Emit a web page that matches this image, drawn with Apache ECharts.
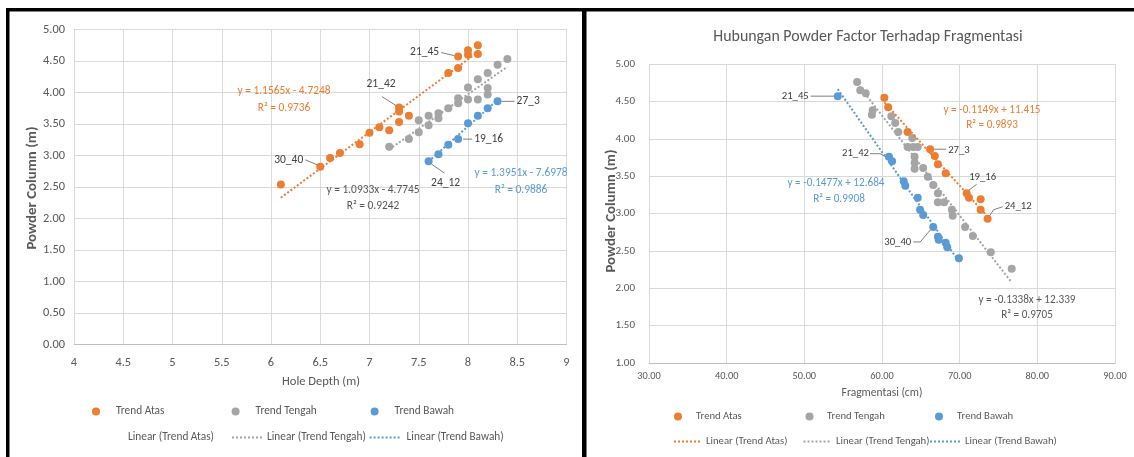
<!DOCTYPE html>
<html><head><meta charset="utf-8">
<script src="https://cdn.jsdelivr.net/npm/echarts@6/dist/echarts.min.js"></script>
<style>html,body{margin:0;padding:0;background:#fff}#c{width:1134px;height:457px}</style>
</head><body><div id="c"></div>
<script>
// ---------- DATA ----------
// Left chart: Hole Depth (m) vs Powder Column (m)
const depthAtas   = [6.1,6.5,6.6,6.7,6.9,7.0,7.1,7.2,7.3,7.3,7.3,7.4,7.8,7.9,7.9,8.0,8.0,8.1,8.1];
const colAtasL    = [2.54,2.82,2.96,3.04,3.18,3.36,3.45,3.40,3.53,3.76,3.70,3.63,4.31,4.39,4.57,4.60,4.67,4.61,4.75];
const depthTengah = [7.2,7.4,7.5,7.5,7.6,7.6,7.7,7.7,7.8,7.9,7.9,8.0,8.0,8.1,8.1,8.2,8.2,8.2,8.3,8.4];
const colTengahL  = [3.14,3.26,3.37,3.56,3.48,3.63,3.59,3.67,3.75,3.83,3.91,3.89,4.08,3.89,4.21,3.97,4.07,4.31,4.44,4.53];
const depthBawah  = [7.6,7.7,7.8,7.9,8.0,8.1,8.2,8.3];
const colBawahL   = [2.91,3.02,3.17,3.26,3.51,3.63,3.75,3.86];
// Right chart: Fragmentasi (cm) vs Powder Column (m)
const fragAtas    = [60.3,60.8,63.3,66.2,66.8,67.2,68.2,70.9,71.2,72.7,72.7,73.6];
const colAtasR    = [4.55,4.42,4.09,3.86,3.77,3.66,3.54,3.27,3.21,3.19,3.05,2.93];
const fragTengah  = [56.8,57.2,57.9,58.8,58.7,61.2,61.7,62.1,63.9,63.3,64.0,64.6,64.2,64.2,64.2,65.3,65.9,66.6,67.2,67.2,68.0,69.0,69.1,70.7,71.7,74.0,76.7];
const colTengahR  = [4.76,4.65,4.61,4.38,4.32,4.30,4.21,4.09,4.01,3.89,3.89,3.89,3.76,3.68,3.60,3.61,3.49,3.38,3.27,3.15,3.15,3.05,2.97,2.82,2.70,2.48,2.26];
const fragBawah   = [54.3,60.9,61.3,62.8,63.0,64.6,64.9,65.3,66.6,67.2,67.3,68.2,68.4,69.9];
const colBawahR   = [4.57,3.76,3.70,3.43,3.37,3.21,3.05,2.98,2.82,2.69,2.65,2.61,2.55,2.40];
// Trendline equations shown on the chart [slope, intercept, R2]
const trendL = { atas:[1.1565,-4.7248,0.9736], tengah:[1.0933,-4.7745,0.9242], bawah:[1.3951,-7.6978,0.9886] };
const trendR = { atas:[-0.1149,11.415,0.9893], tengah:[-0.1338,12.339,0.9705], bawah:[-0.1477,12.684,0.9908] };
// Point tags (index into arrays -> text)
const tagsLeftAtas  = {1:'30_40', 9:'21_42', 14:'21_45'};
const tagsLeftBawah = {0:'24_12', 3:'19_16', 7:'27_3'};
const tagsRightAtas = {3:'27_3', 7:'19_16', 11:'24_12'};
const tagsRightBawah= {0:'21_45', 1:'21_42', 8:'30_40'};
const seriesNames = ['Trend Atas','Trend Tengah','Trend Bawah'];
const lineNames = ['Linear (Trend Atas)','Linear (Trend Tengah)','Linear (Trend Bawah)'];
const chartTitle = 'Hubungan Powder Factor Terhadap Fragmentasi';
const xTitleL = 'Hole Depth (m)', xTitleR = 'Fragmentasi (cm)', yTitle = 'Powder Column (m)';

// ---------- STYLE ----------
const C = {atas:'#ED7D31', tengah:'#A5A5A5', bawah:'#5B9BD5'};
const mctx = document.createElement('canvas').getContext('2d');
function hasFont(n){mctx.font='30px "'+n+'", monospace';const a=mctx.measureText('Hole Depth (m) 0123').width;mctx.font='30px monospace';return a!==mctx.measureText('Hole Depth (m) 0123').width;}
const FONTNAME = ['Carlito','Liberation Sans Narrow','DejaVu Sans Condensed','Open Sans'].find(hasFont) || 'Liberation Sans';
const FONT = '"' + FONTNAME + '", sans-serif';
// font size that gives a sample string the width measured in the reference
function fit(text, w, weight){ mctx.font=(weight||'normal')+' 100px '+FONT; return Math.round(1000*w/mctx.measureText(text).width)/10; }
const TXT = '#595959';
const FS = {
  legL: fit(lineNames[0], 86), legR: fit(lineNames[0], 81.5),
  eqL: fit('y = 1.1565x - 4.7248', 93), eqR: fit('y = -0.1149x + 11.415', 97),
  title: fit(chartTitle, 310), xtL: fit(xTitleL, 78), xtR: fit(xTitleR, 81), yt: fit(yTitle, 123, 'bold'),
  tagL: fit('19_16', 29), tagR: fit('19_16', 27),
  tickL: fit('5.00', 22), tickRy: fit('5.00', 19.5), tickRx: fit('30.00', 23.5)
};

const zip = (xs, ys) => xs.map((x,i)=>[x, ys[i]]);
const trendData = (xs, t) => { const a=Math.min(...xs), b=Math.max(...xs); return [[a, t[0]*a+t[1]],[b, t[0]*b+t[1]]]; };

const chart = echarts.init(document.getElementById('c'), null, {renderer:'canvas'});
const gridLine = {show:true, lineStyle:{color:'#D9D9D9', width:1}};
function scat(name, data, color, gi, size){ return {name, type:'scatter', xAxisIndex:gi, yAxisIndex:gi, data, symbolSize:size, itemStyle:{color, opacity:1}, z:3, emphasis:{disabled:true}}; }
function tl(name, data, color, gi){ return {name, type:'line', xAxisIndex:gi, yAxisIndex:gi, data, symbol:'none', showSymbol:false, lineStyle:{color, width:2, type:[2,2]}, itemStyle:{color}, z:4, silent:true, animation:false}; }

const series = [
  scat(seriesNames[0], zip(depthAtas,colAtasL), C.atas, 0, 8),
  scat(seriesNames[1], zip(depthTengah,colTengahL), C.tengah, 0, 8),
  scat(seriesNames[2], zip(depthBawah,colBawahL), C.bawah, 0, 8),
  tl(lineNames[0], trendData(depthAtas, trendL.atas), C.atas, 0),
  tl(lineNames[1], trendData(depthTengah, trendL.tengah), C.tengah, 0),
  tl(lineNames[2], trendData(depthBawah, trendL.bawah), C.bawah, 0),
  scat(seriesNames[0], zip(fragAtas,colAtasR), C.atas, 1, 8),
  scat(seriesNames[1], zip(fragTengah,colTengahR), C.tengah, 1, 8),
  scat(seriesNames[2], zip(fragBawah,colBawahR), C.bawah, 1, 8),
  tl(lineNames[0], trendData(fragAtas, trendR.atas), C.atas, 1),
  tl(lineNames[1], trendData(fragTengah, trendR.tengah), C.tengah, 1),
  tl(lineNames[2], trendData(fragBawah, trendR.bawah), C.bawah, 1)
];

// legend item: icon box [left, left+w], text starts at left+w+5
function lg(name, left, top, w, fs){ return {show:true, left, top, padding:0, orient:'horizontal', data:[name], itemWidth:w, itemHeight:8, selectedMode:false, icon:'circle', textStyle:{color:TXT, fontSize:fs, fontFamily:FONT}}; }
function lgLine(name, left, top, w, fs, hidden){
  const o = lg(name, left, top, w, fs); o.icon = null;
  o.data = [{name, itemStyle:{opacity:0}, lineStyle:{opacity:hidden?0:1}}];
  return o;
}

const legends = [
  lg(seriesNames[0], 92, 406, 30, FS.legL),
  lg(seriesNames[1], 231.6, 406, 30, FS.legL),
  lg(seriesNames[2], 370.6, 406, 30, FS.legL),
  lgLine(lineNames[0], 92, 432, 30, FS.legL, true),
  lgLine(lineNames[1], 231, 432, 30, FS.legL),
  lgLine(lineNames[2], 368.6, 432, 32, FS.legL),
  lg(seriesNames[0], 674, 411, 26, FS.legR),
  lg(seriesNames[1], 805.5, 411, 25, FS.legR),
  lg(seriesNames[2], 935, 411, 26, FS.legR),
  lgLine(lineNames[0], 673, 436, 27, FS.legR),
  lgLine(lineNames[1], 802.5, 436, 27.5, FS.legR),
  lgLine(lineNames[2], 929, 436, 30, FS.legR)
];

const axLabel = (fs, margin, fmt) => ({color:TXT, fontSize:fs, fontFamily:FONT, margin, formatter:fmt});
chart.setOption({
  animation:false,
  backgroundColor:'#fff',
  grid:[{left:74, top:29.5, width:492.5, height:315}, {left:649, top:64, width:466, height:299}],
  xAxis:[
    {type:'value', gridIndex:0, min:4, max:9, interval:0.5, axisLine:{show:true, onZero:false, lineStyle:{color:'#BFBFBF'}}, axisTick:{show:false}, splitLine:gridLine, axisLabel:axLabel(FS.tickL, 12, v=>String(v))},
    {type:'value', gridIndex:1, min:30, max:90, interval:10, axisLine:{show:true, onZero:false, lineStyle:{color:'#BFBFBF'}}, axisTick:{show:false}, splitLine:gridLine, axisLabel:axLabel(FS.tickRx, 8, v=>v.toFixed(2))}
  ],
  yAxis:[
    {type:'value', gridIndex:0, min:0, max:5, interval:0.5, axisLine:{show:false}, axisTick:{show:false}, splitLine:gridLine, axisLabel:axLabel(FS.tickL, 9, v=>v.toFixed(2))},
    {type:'value', gridIndex:1, min:1, max:5, interval:0.5, axisLine:{show:false}, axisTick:{show:false}, splitLine:gridLine, axisLabel:axLabel(FS.tickRy, 14, v=>v.toFixed(2))}
  ],
  legend:legends,
  series
});

// ---------- ANNOTATIONS ----------
const g = [];
const txt = (text, x, y, o) => g.push({type:'text', silent:true, z:100, style:Object.assign({text, x, y, fill:TXT, fontSize:12, fontFamily:FONT, align:'center', verticalAlign:'middle'}, o||{})});
// frames
g.push({type:'rect', silent:true, z:100, shape:{x:6, y:8, width:3.5, height:460}, style:{fill:'#000'}});
g.push({type:'rect', silent:true, z:100, shape:{x:6, y:8, width:1140, height:3.5}, style:{fill:'#000'}});
g.push({type:'rect', silent:true, z:100, shape:{x:582, y:8, width:4.5, height:460}, style:{fill:'#000'}});
// titles
txt(chartTitle, 868, 37, {fontSize:FS.title});
txt(xTitleL, 321, 382, {fontSize:FS.xtL});
txt(xTitleR, 882, 393, {fontSize:FS.xtR});
g.push({type:'text', silent:true, z:100, x:32, y:188, rotation:Math.PI/2, style:{text:yTitle, x:0, y:0, fill:TXT, fontSize:FS.yt, fontWeight:'bold', fontFamily:FONT, align:'center', verticalAlign:'middle'}});
g.push({type:'text', silent:true, z:100, x:611, y:211, rotation:Math.PI/2, style:{text:yTitle, x:0, y:0, fill:TXT, fontSize:FS.yt, fontWeight:'bold', fontFamily:FONT, align:'center', verticalAlign:'middle'}});
// equations
const eq = t => 'y = ' + t[0] + 'x ' + (t[1] < 0 ? '- ' + Math.abs(t[1]) : '+ ' + t[1]);
const eqR = t => 'R\u00B2 = ' + t[2];
txt(eq(trendL.atas), 284, 91, {fill:C.atas, fontSize:FS.eqL}); txt(eqR(trendL.atas), 284, 108, {fill:C.atas, fontSize:FS.eqL});
txt(eq(trendL.tengah), 373, 190, {fontSize:FS.eqL}); txt(eqR(trendL.tengah), 373, 206, {fontSize:FS.eqL});
txt(eq(trendL.bawah), 521, 173, {fill:C.bawah, fontSize:FS.eqL}); txt(eqR(trendL.bawah), 521, 190, {fill:C.bawah, fontSize:FS.eqL});
txt(eq(trendR.bawah), 836, 183, {fill:C.bawah, fontSize:FS.eqR}); txt(eqR(trendR.bawah), 839, 199, {fill:C.bawah, fontSize:FS.eqR});
txt(eq(trendR.atas), 992, 110, {fill:C.atas, fontSize:FS.eqR}); txt(eqR(trendR.atas), 992, 125, {fill:C.atas, fontSize:FS.eqR});
txt(eq(trendR.tengah), 1027, 300, {fontSize:FS.eqR}); txt(eqR(trendR.tengah), 1027, 315, {fontSize:FS.eqR});
// point tags with leader lines
const tagLayout = {
  L:{'21_45':{tx:-19,ty:-4,al:'right',ln:[[-17,-4],[-4,-1]]}, '21_42':{tx:-18,ty:-23,al:'center',ln:[[-17,-11],[-3,-2]]}, '30_40':{tx:-17,ty:-7,al:'right',ln:[[-15,-7],[-3,-2]]},
     '27_3':{tx:19,ty:0,al:'left',ln:[[4,0],[17,0]]}, '19_16':{tx:16,ty:0,al:'left',ln:[[5,0],[14,0]]}, '24_12':{tx:17,ty:22,al:'center',ln:[[3,3],[16,12]]}},
  R:{'21_45':{tx:-29,ty:0,al:'right',ln:[[-27,0],[-4,0]]}, '21_42':{tx:-20,ty:-3,al:'right',ln:[[-19,-3],[-9,-3],[-3,0]]}, '30_40':{tx:-22,ty:15,al:'right',ln:[[-20,15],[-13,15],[-3,3]]},
     '27_3':{tx:18,ty:1,al:'left',ln:[[4,0],[16,0]]}, '19_16':{tx:16,ty:-16,al:'center',ln:[[2,-3],[10,-9]]}, '24_12':{tx:17,ty:-12,al:'left',ln:[[2,-3],[6,-9],[15,-12]]}}
};
function addTags(tags, xs, ys, gi, side, fs){
  Object.keys(tags).forEach(k=>{
    const i=+k, name=tags[k], L=tagLayout[side][name];
    const p = chart.convertToPixel({gridIndex:gi}, [xs[i], ys[i]]);
    g.push({type:'polyline', silent:true, z:99, shape:{points:L.ln.map(d=>[p[0]+d[0], p[1]+d[1]])}, style:{stroke:'#7F7F7F', lineWidth:1, fill:null}});
    txt(name, p[0]+L.tx, p[1]+L.ty, {align:L.al, fill:'#404040', fontSize:fs});
  });
}
addTags(tagsLeftAtas, depthAtas, colAtasL, 0, 'L', FS.tagL);
addTags(tagsLeftBawah, depthBawah, colBawahL, 0, 'L', FS.tagL);
addTags(tagsRightAtas, fragAtas, colAtasR, 1, 'R', FS.tagR);
addTags(tagsRightBawah, fragBawah, colBawahR, 1, 'R', FS.tagR);
chart.setOption({graphic:{elements:g}});
</script></body></html>
